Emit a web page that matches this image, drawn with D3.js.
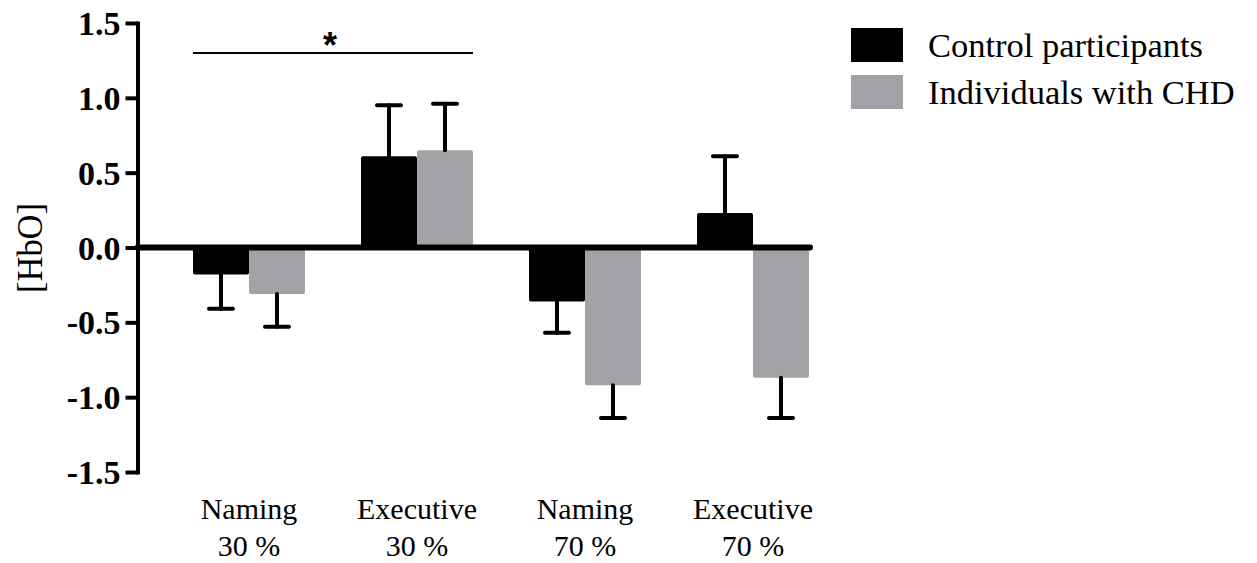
<!DOCTYPE html>
<html>
<head>
<meta charset="utf-8">
<script src="https://cdn.jsdelivr.net/npm/d3@7"></script>
<style>
  html, body { margin: 0; padding: 0; background: #fff; }
  svg { display: block; }
</style>
</head>
<body>
<svg id="chart" width="1257" height="563"></svg>
<script>
// Task conditions (two-line category labels)
const taskLabels = ["Naming", "Executive", "Naming", "Executive"];
const loadLabels = ["30 %", "30 %", "70 %", "70 %"];
const categories = taskLabels.map((t, i) => t + " " + loadLabels[i]);

// Groups
const seriesNames = ["Control participants", "Individuals with CHD"];
const seriesColors = ["#000000", "#a2a1a6"];

// Mean [HbO] change and error per condition
const controlMeans = [-0.18, 0.61, -0.36, 0.23];
const controlErr   = [0.23, 0.34, 0.21, 0.38];
const chdMeans     = [-0.31, 0.65, -0.92, -0.87];
const chdErr       = [0.22, 0.31, 0.22, 0.27];

// Axis ticks
const yTicks = [-1.5, -1.0, -0.5, 0.0, 0.5, 1.0, 1.5];

// Significance bracket between the first two conditions
const sigFrom = 0, sigTo = 1, sigLabel = "*";

const serif = "'Liberation Serif', 'Times New Roman', serif";
const svg = d3.select("#chart");
const axisX = 137.5;

const y = d3.scaleLinear().domain([-1.5, 1.5]).range([472, 23]);
const x = d3.scaleBand().domain(categories).range([165, 837])
  .paddingInner(1 / 3).paddingOuter(1 / 6);
const xs = d3.scaleBand().domain(seriesNames).range([0, x.bandwidth()]);

const rows = [];
categories.forEach((c, i) => {
  rows.push({ cat: c, s: seriesNames[0], v: controlMeans[i], e: controlErr[i], color: seriesColors[0] });
  rows.push({ cat: c, s: seriesNames[1], v: chdMeans[i], e: chdErr[i], color: seriesColors[1] });
});

// Bars
svg.append("g").selectAll("rect").data(rows).join("rect")
  .attr("x", d => x(d.cat) + xs(d.s))
  .attr("width", xs.bandwidth())
  .attr("y", d => Math.min(y(d.v), y(0)))
  .attr("height", d => Math.abs(y(d.v) - y(0)))
  .attr("rx", 2)
  .attr("fill", d => d.color);

// One-sided error bars
const eb = svg.append("g").attr("stroke", "#000").attr("stroke-width", 4).attr("stroke-linecap", "round");
rows.forEach(d => {
  const cx = x(d.cat) + xs(d.s) + xs.bandwidth() / 2;
  const tip = d.v >= 0 ? d.v + d.e : d.v - d.e;
  eb.append("line").attr("x1", cx).attr("x2", cx).attr("y1", y(d.v)).attr("y2", y(tip));
  eb.append("line").attr("x1", cx - 12).attr("x2", cx + 12).attr("y1", y(tip)).attr("y2", y(tip));
});

// Zero baseline
svg.append("line")
  .attr("x1", axisX).attr("x2", x(categories[categories.length - 1]) + x.bandwidth() + 1)
  .attr("y1", y(0)).attr("y2", y(0))
  .attr("stroke", "#000").attr("stroke-width", 6).attr("stroke-linecap", "round");

// Y axis
const yAxis = svg.append("g")
  .attr("transform", `translate(${axisX},0)`)
  .call(d3.axisLeft(y).tickValues(yTicks).tickSize(12).tickSizeOuter(0).tickPadding(5)
    .tickFormat(d => d.toFixed(1)));
yAxis.select(".domain").attr("stroke-width", 4).attr("stroke-linecap", "square");
yAxis.selectAll(".tick line").attr("stroke-width", 4);
yAxis.selectAll(".tick text")
  .attr("font-family", serif)
  .attr("font-weight", "bold")
  .attr("font-size", 34)
  .attr("fill", "#000")
  .attr("dy", "0.34em");

// Y axis title
svg.append("text")
  .attr("transform", `translate(42,248) rotate(-90)`)
  .attr("text-anchor", "middle")
  .attr("font-family", serif)
  .attr("font-size", 36)
  .attr("textLength", 90).attr("lengthAdjust", "spacingAndGlyphs")
  .text("[HbO]");

// Category labels
const xl = svg.append("g")
  .attr("font-family", serif)
  .attr("font-size", 30)
  .attr("text-anchor", "middle");
categories.forEach((c, i) => {
  const cx = x(c) + x.bandwidth() / 2;
  xl.append("text").attr("x", cx).attr("y", 519).text(taskLabels[i]);
  xl.append("text").attr("x", cx).attr("y", 556).text(loadLabels[i]);
});

// Significance bracket
const sx1 = x(categories[sigFrom]);
const sx2 = x(categories[sigTo]) + x.bandwidth();
svg.append("line").attr("x1", sx1).attr("x2", sx2).attr("y1", 53).attr("y2", 53)
  .attr("stroke", "#000").attr("stroke-width", 2);
svg.append("text")
  .attr("x", (sx1 + sx2) / 2 - 3).attr("y", 58)
  .attr("text-anchor", "middle")
  .attr("font-family", "'Liberation Sans', Arial, sans-serif")
  .attr("font-weight", "bold")
  .attr("font-size", 36)
  .text(sigLabel);

// Legend
const lg = svg.append("g").attr("transform", "translate(851,28)");
seriesNames.forEach((s, i) => {
  lg.append("rect").attr("x", 0).attr("y", i * 47).attr("width", 52).attr("height", 34)
    .attr("fill", seriesColors[i]);
  lg.append("text").attr("x", 77).attr("y", i * 47 + 29)
    .attr("font-family", serif)
    .attr("font-size", 34.5)
    .text(s);
});
</script>
</body>
</html>
